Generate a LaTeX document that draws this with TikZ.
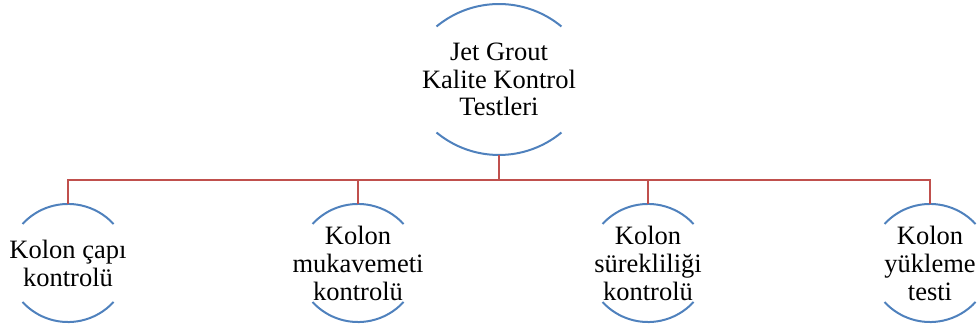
\documentclass[tikz,border=0pt]{standalone}
\usepackage{fontspec}
\setmainfont{Liberation Serif}
\usetikzlibrary{calc}
\definecolor{arcblue}{HTML}{4F81BD}
\definecolor{linkred}{HTML}{C0504D}
\tikzset{
  ringarc/.style={draw=arcblue, line width=2pt},
  link/.style={draw=linkred, line width=2pt},
  topbox/.style={inner sep=0pt, minimum height=151pt, minimum width=125pt, align=center,
    font=\fontsize{26.5}{27.5}\selectfont},
  childbox/.style={inner sep=0pt, minimum height=118pt, minimum width=91pt, align=center,
    font=\fontsize{26.5}{28}\selectfont},
}
\newcommand\ringarcs[5]{% node, half chord, end dy, radius, half angle
  \draw[ringarc] ($(#1)+(-#2,#3)$) arc[start angle={90+#5}, end angle={90-#5}, radius=#4];
  \draw[ringarc] ($(#1)+(-#2,-#3)$) arc[start angle={270-#5}, end angle={270+#5}, radius=#4];
}
\begin{document}
\begin{tikzpicture}[x=1pt, y=1pt]
\useasboundingbox (0,0) rectangle (980,329);
\node[topbox] (T) at (499,249.5) {Jet Grout\\Kalite Kontrol\\Testleri};
\node[childbox] (C1) at (68,66) {Kolon çapı\\kontrolü};
\node[childbox] (C2) at (358,66) {Kolon\\mukavemeti\\kontrolü};
\node[childbox] (C3) at (648,66) {Kolon\\sürekliliği\\kontrolü};
\node[childbox] (C4) at (930,66) {Kolon\\yükleme\\testi};
\ringarcs{T}{62.5}{53}{98}{39.6}
\foreach \c in {C1,C2,C3,C4} {\ringarcs{\c}{45.5}{39}{61.75}{47.5}}
\coordinate (bus) at (499,149);
\draw[link] (T.south) -- (bus);
\draw[link] (C1.north) |- (bus);
\draw[link] (C4.north) |- (bus);
\draw[link] (C2.north) -- (C2.north |- bus);
\draw[link] (C3.north) -- (C3.north |- bus);
\end{tikzpicture}
\end{document}
